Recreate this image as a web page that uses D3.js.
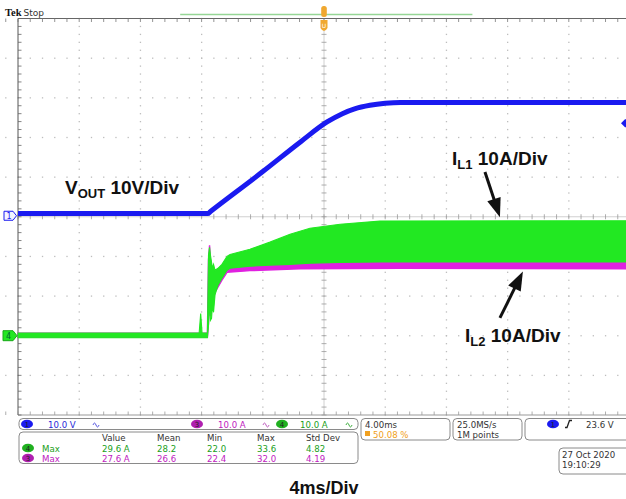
<!DOCTYPE html>
<html><head><meta charset="utf-8">
<script src="https://cdn.jsdelivr.net/npm/d3@7"></script>
<style>body{margin:0;background:#fff}svg{display:block}</style>
</head><body>
<script>
// ---------------- data ----------------
// Ch1 VOUT (V) vs time (ms)
const voutTime  = [-20, -7.6, -7.4, -4, -1.5, 0.2, 1.2, 2.0, 3.0, 4.0, 5.0, 20];
const voutVolts = [0.8, 0.8, 1.4, 11.4, 19.0, 23.9, 26.0, 27.2, 28.1, 28.6, 28.8, 28.8];
// Ch4 IL1 (A) envelope vs time (ms)
const il1Time = [-20, -8.16, -8.06, -7.97, -7.62, -7.55, -7.48, -7.42, -7.35, -7.29, -7.22, -7.12, -6.93, -6.67, -6.34, -6.14, -4.84, -3.53, -2.22, -0.92, 1.05, 3.66, 20];
const il1Lo   = [-0.5, -0.5, -0.5, -0.5, -0.5, 2.6, 8.9, 3.9, 4.4, 7.7, 5.9, 10.4, 12.7, 14.5, 16.5, 17.0, 17.5, 17.8, 18.0, 18.3, 18.5, 18.6, 18.6];
const il1Hi   = [0.7, 0.7, 5.6, 0.7, 0.7, 20.3, 22.3, 20.3, 18.5, 17.0, 18.0, 16.5, 17.0, 18.0, 20.0, 20.5, 21.8, 23.6, 25.6, 27.1, 28.1, 28.9, 29.0];
// Ch3 IL2 (A) envelope vs time (ms)
const il2Time = [-20, -7.62, -7.55, -7.48, -7.42, -7.29, -7.12, -6.67, -6.34, -4.84, -1.57, 4.97, 20];
const il2Lo   = [-0.4, -0.4, 3, 9, 5, 8, 11, 14, 16.0, 16.4, 16.9, 17.0, 16.9];
const il2Hi   = [0.6, 0.6, 19, 22.8, 19, 16, 16, 17, 19, 20, 24, 27, 27];
// readouts
const chLabels   = ["10.0 V", "10.0 A", "10.0 A"];
const measHeader = ["Value", "Mean", "Min", "Max", "Std Dev"];
const measIL1    = ["29.6 A", "28.2", "22.0", "33.6", "4.82"];
const measIL2    = ["27.6 A", "26.6", "22.4", "32.0", "4.19"];
const trigLevel  = 23.6;
const horizText  = ["4.00ms", "50.08 %"];
const acqText    = ["25.0MS/s", "1M points"];
const dateText   = ["27 Oct  2020", "19:10:29"];

// ---------------- setup ----------------
const W = 626, H = 499;
const cBlue = "#1a1af0", cGreen = "#22e822", cMag = "#e020e0";
const svg = d3.select("body").append("svg").attr("width", W).attr("height", H)
  .style("font-family", "'DejaVu Sans', Verdana, sans-serif");

const x  = d3.scaleLinear().domain([-20, 20]).range([18, 630]);
const gy = d3.scaleLinear().domain([-5, 5]).range([415, 18.5]);     // divisions
const yV = d3.scaleLinear().domain([-50, 50]).range([415, 18.5]);   // ch1 10V/div, pos 0
const yA = d3.scaleLinear().domain([-20, 80]).range([415, 18.5]);   // ch3/4 10A/div, pos -3

// ---------------- graticule ----------------
const grid = svg.append("g");
const minorX = d3.range(-50, 51).map(i => i / 5 * 4);   // ms
const minorY = d3.range(-25, 26).map(j => j / 5);       // div
d3.range(-4, 5).filter(k => k !== 0).forEach(k => {
  grid.selectAll(null).data(minorY).enter().append("rect")
    .attr("x", x(k * 4) - 0.6).attr("y", d => gy(d) - 0.6)
    .attr("width", 1.3).attr("height", 1.3).attr("fill", "#bdbdbd");
  grid.selectAll(null).data(minorX).enter().append("rect")
    .attr("x", d => x(d) - 0.6).attr("y", gy(k) - 0.6)
    .attr("width", 1.3).attr("height", 1.3).attr("fill", "#bdbdbd");
});
grid.append("line").attr("x1", x(-20)).attr("x2", x(20)).attr("y1", gy(0)).attr("y2", gy(0))
  .attr("stroke", "#c4c4c4").attr("stroke-width", 0.8);
grid.append("line").attr("x1", x(0)).attr("x2", x(0)).attr("y1", gy(5)).attr("y2", gy(-5))
  .attr("stroke", "#c4c4c4").attr("stroke-width", 0.8);
grid.selectAll(null).data(minorX).enter().append("line")
  .attr("x1", d => x(d)).attr("x2", d => x(d)).attr("y1", gy(0) - 2.5).attr("y2", gy(0) + 2.5)
  .attr("stroke", "#999").attr("stroke-width", 0.8);
grid.selectAll(null).data(minorY).enter().append("line")
  .attr("y1", d => gy(d)).attr("y2", d => gy(d)).attr("x1", x(0) - 2.5).attr("x2", x(0) + 2.5)
  .attr("stroke", "#999").attr("stroke-width", 0.8);
grid.append("line").attr("x1", x(-20)).attr("x2", W).attr("y1", gy(5)).attr("y2", gy(5)).attr("stroke", "#666");
grid.append("line").attr("x1", x(-20)).attr("x2", W).attr("y1", gy(-5)).attr("y2", gy(-5)).attr("stroke", "#999");
grid.append("line").attr("x1", x(-20)).attr("x2", x(-20)).attr("y1", gy(5)).attr("y2", gy(-5)).attr("stroke", "#555");
grid.selectAll(null).data(minorX).enter().append("line")
  .attr("x1", d => x(d)).attr("x2", d => x(d)).attr("y1", gy(5)).attr("y2", gy(5) + 3.5)
  .attr("stroke", "#777").attr("stroke-width", 0.8);
grid.selectAll(null).data(minorX).enter().append("line")
  .attr("x1", d => x(d)).attr("x2", d => x(d)).attr("y1", gy(-5)).attr("y2", gy(-5) - 3.5)
  .attr("stroke", "#999").attr("stroke-width", 0.8);
grid.selectAll(null).data(minorY).enter().append("line")
  .attr("y1", d => gy(d)).attr("y2", d => gy(d)).attr("x1", x(-20)).attr("x2", x(-20) + 3.5)
  .attr("stroke", "#666").attr("stroke-width", 0.8);

// ---------------- header ----------------
svg.append("text").attr("x", 5).attr("y", 16).attr("font-size", 10.5).attr("font-weight", "bold")
  .attr("font-family", "'Liberation Serif', serif").attr("fill", "#111").text("Tek");
svg.append("text").attr("x", 23.5).attr("y", 16).attr("font-size", 9).attr("fill", "#333").text("Stop");
svg.append("line").attr("x1", x(-9.4)).attr("x2", x(9.7)).attr("y1", 14.5).attr("y2", 14.5)
  .attr("stroke", "#96d696").attr("stroke-width", 1.5);
svg.append("rect").attr("x", x(0) - 2.8).attr("y", 6).attr("width", 5.6).attr("height", 11).attr("rx", 2.5)
  .attr("fill", "#f0a830");
svg.append("path").attr("d", `M${x(0) - 3.5},20 L${x(0) - 3.5},28 Q${x(0)},34 ${x(0) + 3.5},28 L${x(0) + 3.5},20 Z`)
  .attr("fill", "#f0a830");
svg.append("text").attr("x", x(0)).attr("y", 28).attr("font-size", 6).attr("text-anchor", "middle")
  .attr("fill", "#fff").text("U");

// ---------------- traces ----------------
const il2 = il2Time.map((t, i) => ({t, lo: il2Lo[i], hi: il2Hi[i]}));
const il1 = il1Time.map((t, i) => ({t, lo: il1Lo[i], hi: il1Hi[i]}));
const vout = voutTime.map((t, i) => ({t, v: voutVolts[i]}));
const area = d3.area().x(d => x(d.t)).y0(d => yA(d.lo)).y1(d => yA(d.hi));
svg.append("path").attr("d", area(il2)).attr("fill", cMag).attr("stroke", cMag).attr("stroke-width", 1.4);
svg.append("path").attr("d", area(il1)).attr("fill", cGreen).attr("stroke", cGreen).attr("stroke-width", 1.1);
svg.append("path").attr("d", d3.line().x(d => x(d.t)).y(d => yV(d.v)).curve(d3.curveMonotoneX)(vout))
  .attr("fill", "none").attr("stroke", cBlue).attr("stroke-width", 5);

const g1 = yV(0) - 1;
svg.append("path").attr("d", `M4,${g1 - 4.5} L13,${g1 - 4.5} L16.5,${g1} L13,${g1 + 4.5} L4,${g1 + 4.5} Z`)
  .attr("fill", "#f4f4ff").attr("stroke", cBlue).attr("stroke-width", 1);
svg.append("text").attr("x", 9).attr("y", g1 + 3).attr("font-size", 8).attr("text-anchor", "middle")
  .attr("fill", cBlue).text("1");
const g4 = yA(0);
svg.append("path").attr("d", `M3,${g4 - 5} L13,${g4 - 5} L17,${g4} L13,${g4 + 5} L3,${g4 + 5} Z`)
  .attr("fill", cGreen).attr("stroke", "#18a818").attr("stroke-width", 1);
svg.append("text").attr("x", 8.5).attr("y", g4 + 3).attr("font-size", 8).attr("text-anchor", "middle")
  .attr("fill", "#063").text("4");
const tl = yV(trigLevel);
svg.append("path").attr("d", `M621,${tl} L625,${tl - 4} L628,${tl - 4} L628,${tl + 4} L625,${tl + 4} Z`)
  .attr("fill", cBlue);

// ---------------- annotations ----------------
const ann = svg.append("g").attr("font-family", "'Liberation Sans', Arial, sans-serif")
  .attr("font-weight", "bold").attr("fill", "#111");
function label(px, py, main, sub, rest) {
  const t = ann.append("text").attr("x", px).attr("y", py).attr("font-size", 19);
  t.append("tspan").text(main);
  t.append("tspan").attr("font-size", 13).attr("dy", 4).text(sub);
  t.append("tspan").attr("dy", -4).text(" " + rest);
}
label(x(-16.93), yV(5.7), "V", "OUT", "10V/Div");
label(x(8.37), yA(43.1), "I", "L1", "10A/Div");
label(x(9.22), yA(-1.6), "I", "L2", "10A/Div");
function arrow(x1, y1, x2, y2) {
  const dx = x2 - x1, dy = y2 - y1, L = Math.hypot(dx, dy), ux = dx / L, uy = dy / L;
  const hl = 19, hw = 7;
  const bx = x2 - ux * hl, by = y2 - uy * hl;
  ann.append("line").attr("x1", x1).attr("y1", y1).attr("x2", bx + ux * 2).attr("y2", by + uy * 2)
    .attr("stroke", "#111").attr("stroke-width", 3);
  ann.append("path").attr("d", `M${x2},${y2} L${bx - uy * hw},${by + ux * hw} L${bx + uy * hw},${by - ux * hw} Z`)
    .attr("fill", "#111");
}
arrow(x(10.52), yA(41.3), x(11.5), yA(29.9));
arrow(x(11.5), yA(4.5), x(13.0), yA(16.2));
ann.append("text").attr("x", x(0)).attr("y", 494).attr("font-size", 18).attr("text-anchor", "middle").text("4ms/Div");

// ---------------- readout panel ----------------
const p = svg.append("g").attr("font-size", 8.6);
function box(bx, by, bw, bh) {
  p.append("rect").attr("x", bx).attr("y", by).attr("width", bw).attr("height", bh).attr("rx", 4)
    .attr("fill", "#fff").attr("stroke", "#8a8a8a").attr("stroke-width", 1);
}
function oval(cx, cy, col, n) {
  p.append("ellipse").attr("cx", cx).attr("cy", cy).attr("rx", 6).attr("ry", 4.3).attr("fill", col);
  p.append("text").attr("x", cx).attr("y", cy + 2.5).attr("font-size", 7).attr("text-anchor", "middle")
    .attr("fill", "#222").text(n);
}
function squiggle(sx, sy, col) {
  p.append("path").attr("d", `M${sx},${sy} q1.5,-4 3,0 t3,0`).attr("fill", "none")
    .attr("stroke", col).attr("stroke-width", 1);
}
box(19, 418.5, 339, 11);
oval(27, 424, cBlue, "1");
p.append("text").attr("x", 48).attr("y", 427.5).attr("fill", "#2a2ad8").text(chLabels[0]);
squiggle(93, 425, "#5a5ae0");
oval(197, 424, "#b020b0", "3");
p.append("text").attr("x", 218).attr("y", 427.5).attr("fill", "#c020c0").text(chLabels[1]);
squiggle(263, 425, "#c060c0");
oval(282, 424, "#20b020", "4");
p.append("text").attr("x", 300).attr("y", 427.5).attr("fill", "#20a020").text(chLabels[2]);
squiggle(346, 425, "#40b040");

box(19, 432, 339, 31.5);
const colX = [102, 157, 207, 257, 306];
measHeader.forEach((h, i) => p.append("text").attr("x", colX[i]).attr("y", 440.5).attr("fill", "#333").text(h));
oval(28, 448, "#20b020", "4");
p.append("text").attr("x", 42).attr("y", 451.5).attr("fill", "#20a020").text("Max");
measIL1.forEach((v, i) => p.append("text").attr("x", colX[i]).attr("y", 451.5).attr("fill", "#20a020").text(v));
oval(28, 458, "#b020b0", "3");
p.append("text").attr("x", 42).attr("y", 461.5).attr("fill", "#c020c0").text("Max");
measIL2.forEach((v, i) => p.append("text").attr("x", colX[i]).attr("y", 461.5).attr("fill", "#c020c0").text(v));

box(361, 418.5, 89, 21.5);
p.append("text").attr("x", 365).attr("y", 428).attr("fill", "#333").text(horizText[0]);
p.append("rect").attr("x", 365).attr("y", 431).attr("width", 5).attr("height", 5).attr("fill", "#f0a020");
p.append("text").attr("x", 373).attr("y", 437.5).attr("fill", "#f0a020").text(horizText[1]);

box(453, 418.5, 69, 21.5);
p.append("text").attr("x", 457).attr("y", 428).attr("fill", "#333").text(acqText[0]);
p.append("text").attr("x", 457).attr("y", 438).attr("fill", "#333").text(acqText[1]);

box(525, 418.5, 110, 21.5);
oval(553, 424, cBlue, "1");
p.append("path").attr("d", "M565,427.5 L567,427.5 L569.5,420.5 L572,420.5").attr("fill", "none")
  .attr("stroke", "#222").attr("stroke-width", 1.3);
p.append("text").attr("x", 586).attr("y", 427.5).attr("fill", "#333").text(trigLevel.toFixed(1) + " V");

box(559, 448, 76, 26);
p.append("text").attr("x", 562).attr("y", 458).attr("fill", "#333").text(dateText[0]);
p.append("text").attr("x", 562).attr("y", 468).attr("fill", "#333").text(dateText[1]);
</script>
</body></html>
